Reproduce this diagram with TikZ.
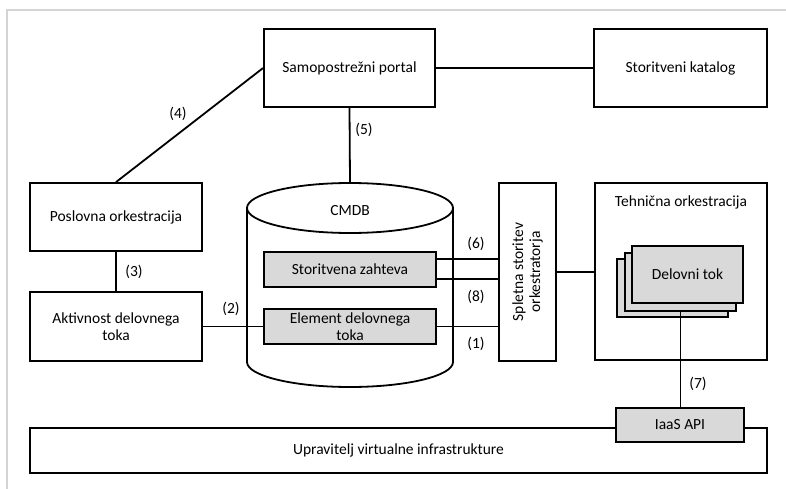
\documentclass[tikz,border=0pt]{standalone}
\usepackage{fontspec}
\setmainfont{Carlito}
\usetikzlibrary{calc}
\definecolor{framegray}{HTML}{D4D4D4}
\definecolor{boxgray}{HTML}{D9D9D9}
\begin{document}
\begin{tikzpicture}[x=1pt,y=-1pt,
  txt/.style={font=\fontsize{15.5}{17}\selectfont, inner sep=0pt, align=center},
  box/.style={txt, draw, line width=1.8pt, fill=white},
  graybox/.style={box, fill=boxgray},
  link/.style={line width=1.8pt},
  lbl/.style={txt}]
\useasboundingbox (0,0) rectangle (786,489);
% outer frame
\draw[line width=2pt, framegray] (7,489) -- (7,10) -- (786,10);

% top row
\node[box, minimum width=171, minimum height=78] (portal) at (349.5,68) {Samopostrežni portal};
\node[box, minimum width=173, minimum height=78] (katalog) at (680.5,68) {Storitveni katalog};

% left column
\node[box, minimum width=172, minimum height=68] (poslovna) at (116,217) {Poslovna orkestracija};
\node[box, minimum width=172, minimum height=69] (aktivnost) at (116,326.5) {Aktivnost delovnega\\toka};

% CMDB cylinder
\draw[link, fill=white] (247,208) -- (247,362) arc[start angle=180, end angle=0, x radius=103, y radius=25] -- (453,208);
\draw[link] (350,208) ellipse[x radius=103, y radius=25];
\coordinate (cmdbtop) at (350,183);
\node[txt] (cmdb) at (350,211) {CMDB};
\node[graybox, minimum width=172, minimum height=35] (zahteva) at (350,269.5) {Storitvena zahteva};
\node[graybox, minimum width=172, minimum height=35] (element) at (350,326.5) {Element delovnega\\toka};

% orchestrator web service
\node[box, minimum width=57, minimum height=178] (spletna) at (527.5,272) {};
\node[txt, rotate=90] (spletnatxt) at (spletna) {Spletna storitev\\orkestratorja};

% technical orchestration
\node[box, minimum width=172, minimum height=177] (tehnicna) at (681,271.5) {};
\node[txt] (tehnicnatxt) at (681,202) {Tehnična orkestracija};
\node[graybox, minimum width=111, minimum height=58] (tok3) at (672.5,288) {};
\node[graybox, minimum width=111, minimum height=58] (tok2) at (680.5,282) {};
\node[graybox, minimum width=111, minimum height=57] (tok1) at (687.5,274.5) {Delovni tok};

% infrastructure
\node[box, minimum width=737, minimum height=45] (upravitelj) at (398.5,450.5) {Upravitelj virtualne infrastrukture};
\node[graybox, minimum width=128, minimum height=34] (iaas) at (680,425) {IaaS API};

% connectors
\draw[link] (portal.east) -- (katalog.west);
\draw[link] (portal.west) -- (poslovna.north);
\draw[link] (portal.south) -- (cmdbtop);
\draw[link] (poslovna.south) -- (aktivnost.north);
\draw[link] (aktivnost.east) -- (element.west);
\coordinate (z6) at ($(zahteva.east)+(0,-10.5)$);
\coordinate (z8) at ($(zahteva.east)+(0,9.5)$);
\draw[link] (z6) -- (z6 -| spletna.west);
\draw[link] (z8) -- (z8 -| spletna.west);
\draw[link] (element.east) -- (element.east -| spletna.west);
\draw[link] (spletna.east) -- (spletna.east -| tehnicna.west);
\draw[link] (tok2.south) -- (tok2.south |- iaas.north);

% labels
\node[lbl] (l4) at (178,114) {(4)};
\node[lbl] (l5) at (364,130) {(5)};
\node[lbl] (l3) at (134,272) {(3)};
\node[lbl] (l2) at (231,309) {(2)};
\node[lbl] (l6) at (476,244) {(6)};
\node[lbl] (l8) at (476,297) {(8)};
\node[lbl] (l1) at (476,344) {(1)};
\node[lbl] (l7) at (698,384) {(7)};
\end{tikzpicture}
\end{document}
